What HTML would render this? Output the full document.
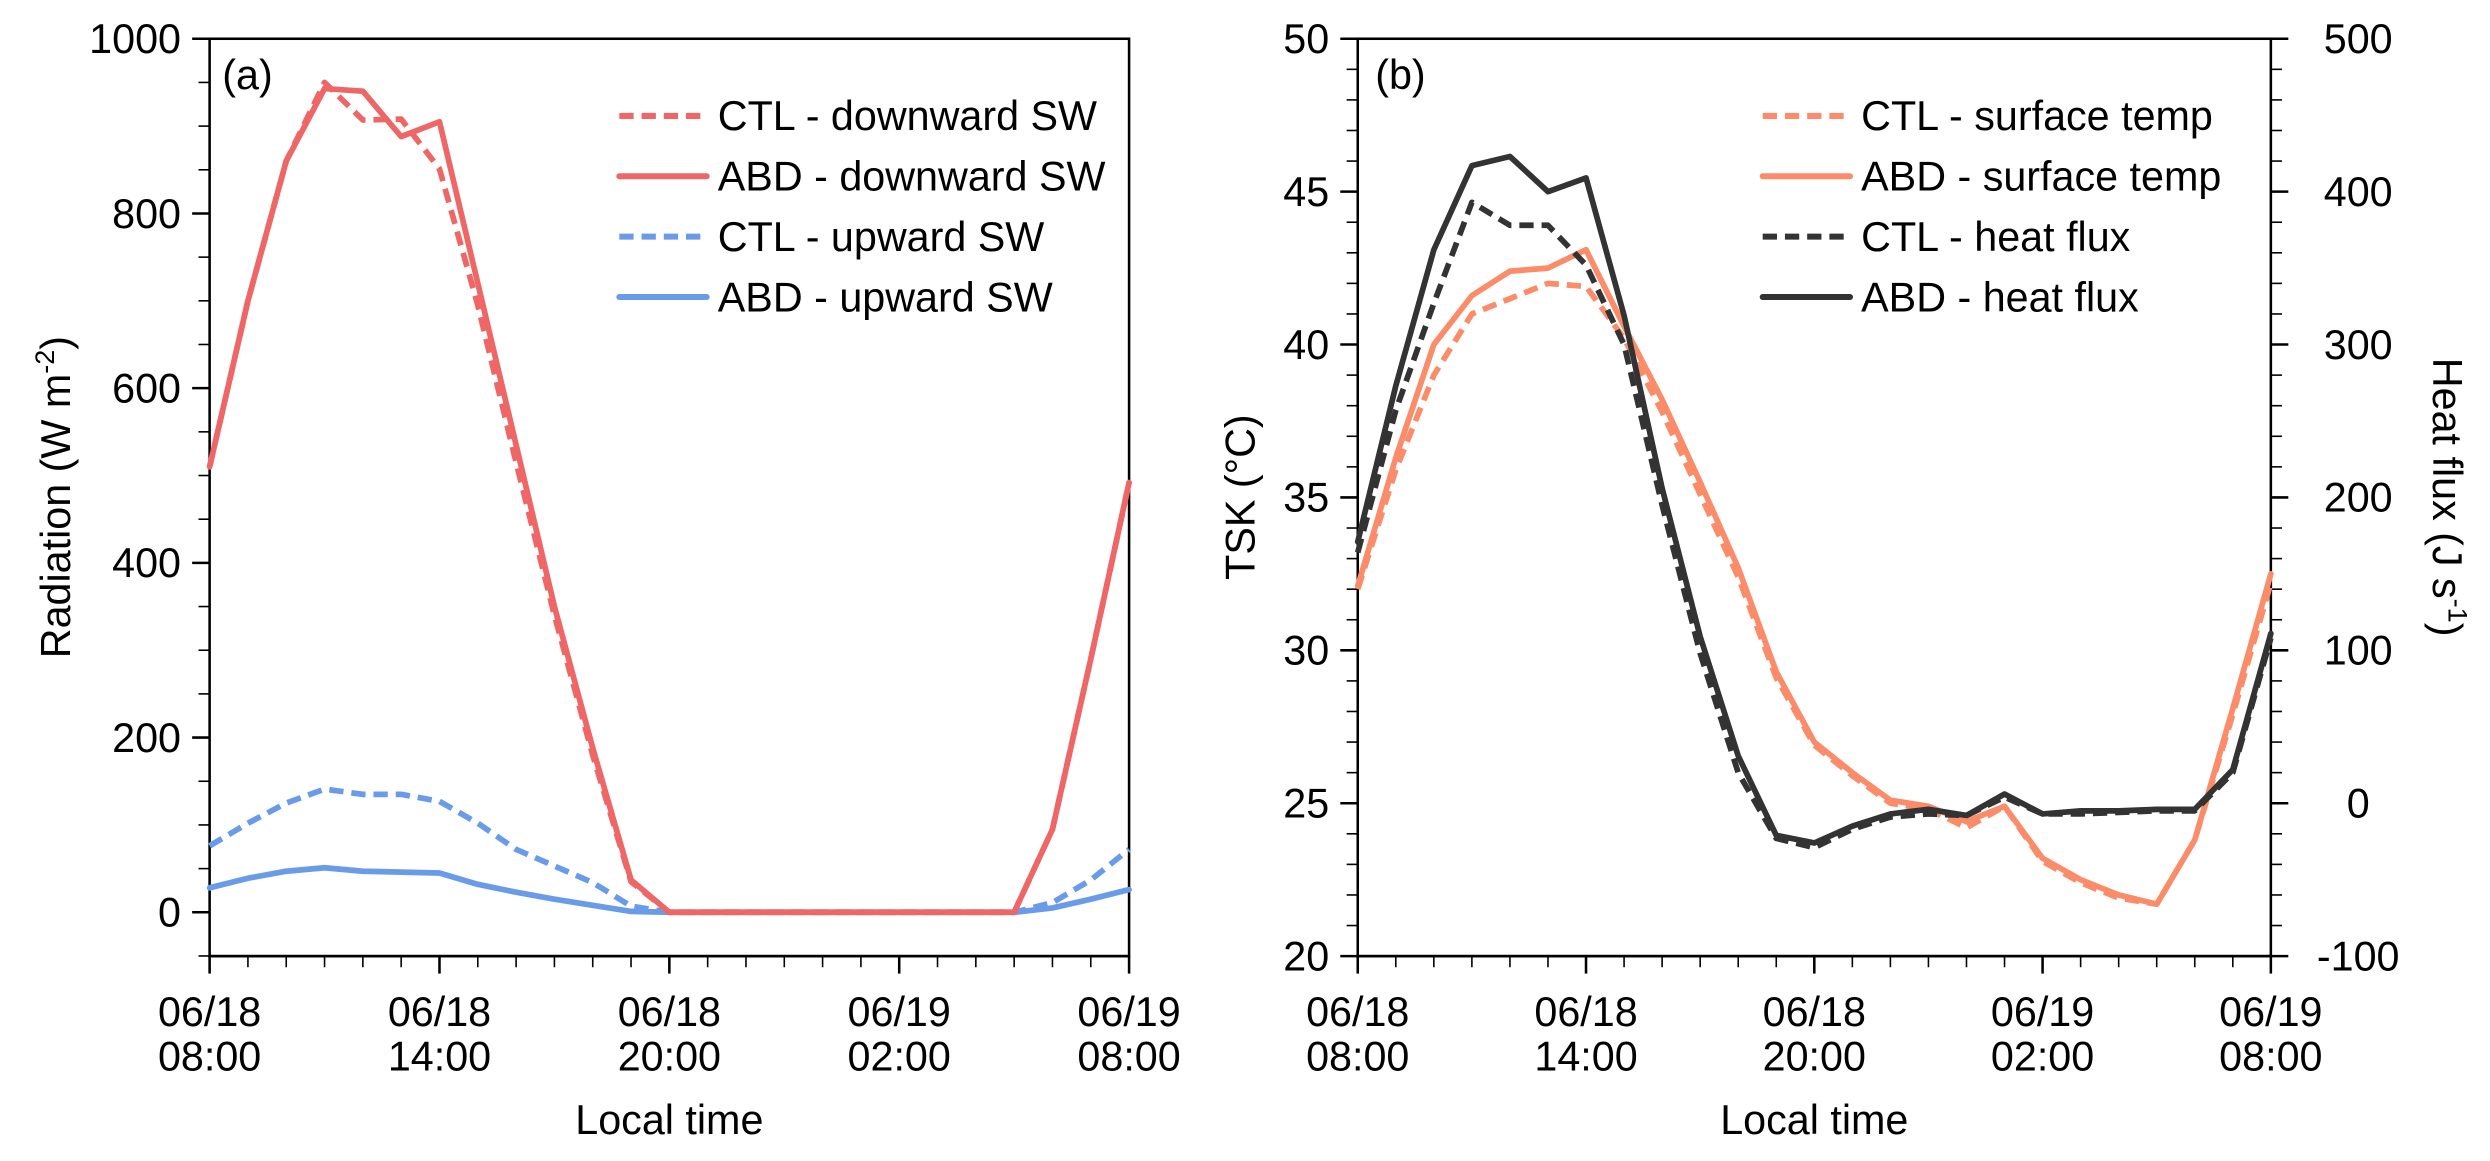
<!DOCTYPE html>
<html><head><meta charset="utf-8"><style>
html,body{margin:0;padding:0;background:#fff;}
svg{display:block;font-family:"Liberation Sans",Arial,sans-serif;}
</style></head><body>
<svg id="fig" width="2490" height="1161" viewBox="0 0 1568 731" preserveAspectRatio="none" xmlns="http://www.w3.org/2000/svg"></svg>
<script>
const hours = [0,1,2,3,4,5,6,7,8,9,10,11,12,13,14,15,16,17,18,19,20,21,22,23,24];
const xTickLabels = [["06/18","08:00"],["06/18","14:00"],["06/18","20:00"],["06/19","02:00"],["06/19","08:00"]];
const radTicks = [0,200,400,600,800,1000];
const ctlDown = [510,700,860,950,907,908,851,695,515,340,180,35,0,0,0,0,0,0,0,0,0,0,95,290,492];
const abdDown = [510,700,860,943,940,888,905,720,535,350,188,37,0,0,0,0,0,0,0,0,0,0,95,290,492];
const ctlUp = [76,102,125,141,135,135,127,102,72,53,34,7,0,0,0,0,0,0,0,0,0,0,11,37,72];
const abdUp = [28,39,47,51,47,46,45,32,23,15,8,1,0,0,0,0,0,0,0,0,0,0,5,15,26];
const tskTicks = [20,25,30,35,40,45,50];
const fluxTicks = [-100,0,100,200,300,400,500];
const ctlTemp = [32.0,35.9,39.0,41.0,41.5,42.0,41.9,40.2,37.8,35.1,32.4,29.1,26.9,25.9,25.0,24.8,24.2,24.9,23.1,22.4,21.9,21.7,23.8,27.9,32.2];
const abdTemp = [32.1,36.3,40.0,41.6,42.4,42.5,43.1,40.6,38.2,35.5,32.7,29.3,27.0,26.0,25.1,24.9,24.4,24.9,23.2,22.5,22.0,21.7,23.8,28.1,32.5];
const ctlFlux = [164,257,327,393,378,378,352,300,195,98,20,-23,-29,-17,-9,-7,-8,4,-7,-7,-6,-5,-5,20,108];
const abdFlux = [171,273,362,417,423,400,409,319,206,109,31,-21,-26,-15,-7,-4,-8,6,-7,-5,-5,-4,-4,22,111];

const NS="http://www.w3.org/2000/svg";
const svg=document.getElementById('fig');
const FS=26;
function el(tag,attrs,parent){const e=document.createElementNS(NS,tag);for(const k in attrs)e.setAttribute(k,attrs[k]);(parent||svg).appendChild(e);return e;}
function txt(s,attrs,parent){const t=el('text',attrs,parent);t.textContent=s;return t;}

const COL={red:'#ee6666',blue:'#6a9be8',sal:'#fb8c6a',blk:'#333333'};
const DASH='9,5';

function xAxisFor(L,R){return h=>L+(R-L)*h/24;}
function linMap(v0,v1,p0,p1){return v=>p0+(v-v0)*(p1-p0)/(v1-v0);}

function drawXAxis(g,L,R,B,x){
  el('line',{x1:L,y1:B,x2:R,y2:B,stroke:'#000','stroke-width':1.6},g);
  hours.forEach(h=>{const major=h%6===0;
    const t=el('line',{x1:x(h),y1:B,x2:x(h),y2:B+(major?11:7),stroke:'#000','stroke-width':major?1.6:1},g);
    
    
  });
  xTickLabels.forEach((lab,i)=>{
    const t1=txt(lab[0],{x:x(i*6),y:646,'text-anchor':'middle','font-size':FS},g);
    
    
    const t2=txt(lab[1],{x:x(i*6),y:674,'text-anchor':'middle','font-size':FS},g);
    
    
  });
  const xt=txt('Local time',{x:(L+R)/2,y:714,'text-anchor':'middle','font-size':FS},g);
  
  
}
function series(g,vals,x,y,color,dash,name){
  const d=vals.map((v,i)=>(i?'L':'M')+x(hours[i]).toFixed(2)+','+y(v).toFixed(2)).join(' ');
  const p=el('path',{d:d,fill:'none',stroke:color,'stroke-width':3.6,'stroke-linejoin':'round','stroke-linecap':dash?'butt':'round'},g);
  if(dash)p.setAttribute('stroke-dasharray',DASH);
  
  
}
function legend(g,x0,rows){
  rows.forEach((r,i)=>{const yy=73+i*38;
    const lg=el('g',{},g);
    
    
    const l=el('line',{x1:x0,y1:yy,x2:x0+55,y2:yy,stroke:r[1],'stroke-width':3.8,'stroke-linecap':r[2]?'butt':'round'},lg);
    if(r[2])l.setAttribute('stroke-dasharray',DASH);
    txt(r[0],{x:x0+62,y:yy+9,'font-size':FS,'xml:space':'preserve'},lg);
  });
}

/* Panel a */
(function(){
  const L=132,R=711,T=24.4,B=602;
  const x=xAxisFor(L,R), y=linMap(0,1000,574.4,24.4);
  const g=el('g',{});
  
  
  el('rect',{x:L,y:T,width:R-L,height:B-T,fill:'none',stroke:'#000','stroke-width':1.6},g);
  for(let v=-50;v<=1000;v+=50){const major=v%200===0;
    const t=el('line',{x1:L,y1:y(v),x2:L-(major?11:7),y2:y(v),stroke:'#000','stroke-width':major?1.6:1},g);
    
    }
  radTicks.forEach(v=>{const t=txt(String(v),{x:L-18,y:y(v)+9,'text-anchor':'end','font-size':FS},g);
    
    });
  const yt=txt('',{transform:'translate(44,313) rotate(-90)','text-anchor':'middle','font-size':FS},g);
  
  
  yt.innerHTML='Radiation (W m<tspan dy="-10" font-size="17">-2</tspan><tspan dy="10">)</tspan>';
  drawXAxis(g,L,R,B,x);
  series(g,ctlUp,x,y,COL.blue,true,'ctl-upward-sw-line');
  series(g,abdUp,x,y,COL.blue,false,'abd-upward-sw-line');
  series(g,ctlDown,x,y,COL.red,true,'ctl-downward-sw-line');
  series(g,abdDown,x,y,COL.red,false,'abd-downward-sw-line');
  const pl=txt('(a)',{x:140,y:56,'font-size':FS},g);
  
  
  legend(g,390,[['CTL -  downward SW',COL.red,true],['ABD -  downward SW',COL.red,false],['CTL -  upward SW',COL.blue,true],['ABD -  upward SW',COL.blue,false]]);
})();

/* Panel b */
(function(){
  const L=855,R=1430,T=24.4,B=602;
  const x=xAxisFor(L,R), y=linMap(20,50,B,T), y2=linMap(-100,500,B,T);
  const g=el('g',{});
  
  
  el('rect',{x:L,y:T,width:R-L,height:B-T,fill:'none',stroke:'#000','stroke-width':1.6},g);
  for(let v=20;v<=50;v+=1){const major=v%5===0;
    const t=el('line',{x1:L,y1:y(v),x2:L-(major?11:7),y2:y(v),stroke:'#000','stroke-width':major?1.6:1},g);
    
    }
  tskTicks.forEach(v=>{const t=txt(String(v),{x:L-18,y:y(v)+9,'text-anchor':'end','font-size':FS},g);
    
    });
  for(let v=-100;v<=500;v+=20){const major=v%100===0;
    const t=el('line',{x1:R,y1:y2(v),x2:R+(major?11:7),y2:y2(v),stroke:'#000','stroke-width':major?1.6:1},g);
    
    }
  fluxTicks.forEach(v=>{const t=txt(String(v),{x:R+55,y:y2(v)+9,'text-anchor':'middle','font-size':FS},g);
    
    });
  const yt=txt('TSK (°C)',{transform:'translate(790,313) rotate(-90)','text-anchor':'middle','font-size':FS},g);
  
  
  const yt2=txt('',{transform:'translate(1532,313) rotate(90)','text-anchor':'middle','font-size':FS},g);
  
  
  yt2.innerHTML='Heat flux (J s<tspan dy="-10" font-size="17">-1</tspan><tspan dy="10">)</tspan>';
  drawXAxis(g,L,R,B,x);
  series(g,ctlTemp,x,y,COL.sal,true,'ctl-surface-temp-line');
  series(g,abdTemp,x,y,COL.sal,false,'abd-surface-temp-line');
  series(g,ctlFlux,x,y2,COL.blk,true,'ctl-heat-flux-line');
  series(g,abdFlux,x,y2,COL.blk,false,'abd-heat-flux-line');
  const pl=txt('(b)',{x:866,y:56,'font-size':FS},g);
  
  
  legend(g,1110,[['CTL -  surface temp',COL.sal,true],['ABD -  surface temp',COL.sal,false],['CTL -  heat flux',COL.blk,true],['ABD -  heat flux',COL.blk,false]]);
})();
</script>
</body></html>
